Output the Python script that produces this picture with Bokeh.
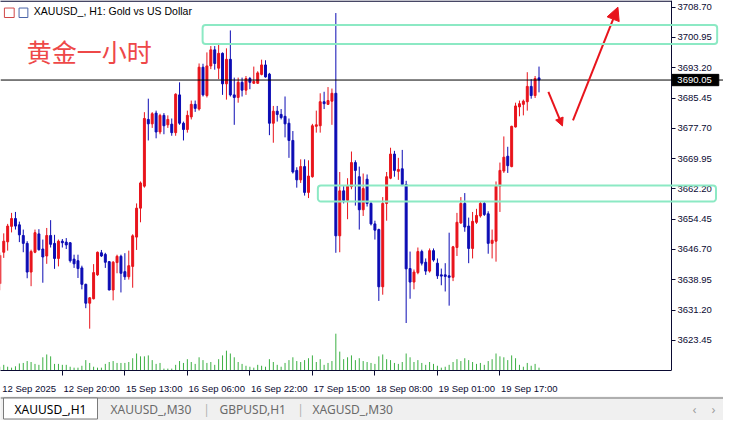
from bokeh.plotting import figure
from bokeh.models import (Range1d, LinearAxis, FixedTicker, PrintfTickFormatter, Span, Label,
                          BoxAnnotation, Arrow, NormalHead, ColumnDataSource)
from bokeh.layouts import column
from bokeh.core.properties import value
from bokeh.embed import file_html
from bokeh.resources import INLINE

# ---------------- data ----------------
symbol_title = "XAUUSD_, H1:  Gold vs US Dollar"
note_text = "黄金一小时"

time_ticks = [0, 16, 32, 48, 64, 80, 96, 112, 128]
time_labels = ["12 Sep 2025", "12 Sep 20:00", "15 Sep 13:00", "16 Sep 06:00", "16 Sep 22:00",
               "17 Sep 15:00", "18 Sep 08:00", "19 Sep 01:00", "19 Sep 17:00"]

price_ticks = [3623.45, 3631.20, 3638.95, 3646.70, 3654.45, 3662.20,
               3669.95, 3677.70, 3685.45, 3693.20, 3700.95, 3708.70]

opens = [3637.95, 3645.99, 3648.65, 3652.61, 3654.61, 3653.00, 3650.27, 3648.26, 3640.92, 3645.99,
         3650.68, 3646.81, 3645.03, 3650.27, 3648.26, 3644.40, 3648.82, 3648.58, 3648.41, 3644.23,
         3643.82, 3641.98, 3637.78, 3632.95, 3634.09, 3640.20, 3645.85, 3645.44, 3643.58, 3636.33,
         3643.34, 3644.95, 3641.02, 3639.71, 3642.37, 3649.86, 3657.27, 3662.90, 3679.97, 3678.84,
         3681.59, 3676.76, 3681.01, 3678.59, 3678.76, 3676.59, 3686.25, 3679.00, 3677.39, 3680.62,
         3683.83, 3682.63, 3693.33, 3686.08, 3693.66, 3697.77, 3693.08, 3696.88, 3689.08, 3695.35,
         3686.25, 3685.60, 3689.46, 3687.46, 3690.43, 3689.22, 3689.22, 3691.49, 3693.91, 3691.56,
         3679.00, 3682.07, 3681.25, 3680.77, 3679.00, 3674.59, 3666.93, 3664.51, 3667.90, 3661.30,
         3665.31, 3678.21, 3678.35, 3684.49, 3683.83, 3684.63, 3686.66, 3650.19, 3661.69, 3659.27,
         3662.75, 3668.93, 3665.31, 3656.86, 3664.68, 3658.48, 3653.24, 3651.79, 3637.15, 3658.48,
         3664.93, 3671.11, 3666.69, 3667.34, 3663.31, 3641.81, 3638.36, 3640.78, 3646.16, 3643.43,
         3641.16, 3646.40, 3643.19, 3640.20, 3640.20, 3639.95, 3639.57, 3647.20, 3653.48, 3658.48,
         3652.68, 3646.96, 3653.65, 3655.27, 3658.48, 3655.82, 3648.26, 3648.82, 3662.90, 3666.76,
         3670.55, 3667.90, 3678.04, 3683.18, 3683.83, 3684.49, 3688.42, 3686.08, 3690.60]

highs = [3645.92, 3650.82, 3653.24, 3656.06, 3656.30, 3653.82, 3651.79, 3648.82, 3646.64, 3651.79,
         3651.89, 3649.23, 3652.20, 3654.20, 3650.44, 3649.23, 3649.37, 3649.61, 3648.60, 3645.36,
         3645.36, 3642.54, 3637.95, 3634.50, 3642.95, 3646.16, 3646.57, 3645.85, 3643.75, 3643.75,
         3645.36, 3645.36, 3645.75, 3646.40, 3650.58, 3658.48, 3664.10, 3681.83, 3685.28, 3681.83,
         3682.22, 3681.42, 3681.59, 3681.01, 3680.21, 3686.66, 3689.46, 3679.42, 3682.22, 3684.80,
         3684.80, 3694.29, 3694.22, 3697.12, 3698.74, 3698.74, 3699.53, 3697.12, 3698.16, 3702.74,
         3690.67, 3690.67, 3690.67, 3691.08, 3690.84, 3693.49, 3692.29, 3695.26, 3695.11, 3691.88,
         3683.42, 3683.42, 3682.63, 3685.84, 3680.21, 3677.00, 3667.73, 3669.76, 3669.76, 3669.51,
         3678.84, 3682.22, 3686.66, 3687.05, 3688.25, 3687.87, 3707.19, 3666.52, 3662.90, 3664.93,
         3671.76, 3669.51, 3667.90, 3666.13, 3665.89, 3658.89, 3654.06, 3652.03, 3660.10, 3666.52,
         3672.73, 3671.93, 3670.14, 3672.17, 3664.27, 3646.16, 3641.57, 3647.20, 3646.64, 3644.40,
         3646.96, 3646.96, 3644.40, 3641.81, 3643.19, 3650.99, 3647.61, 3656.06, 3660.10, 3661.13,
         3654.85, 3656.30, 3657.10, 3658.89, 3659.03, 3656.47, 3651.79, 3664.10, 3668.93, 3675.62,
         3672.97, 3678.35, 3684.25, 3684.80, 3685.04, 3692.05, 3690.28, 3691.08, 3693.49]

lows = [3636.26, 3644.54, 3646.40, 3651.06, 3651.79, 3648.58, 3645.99, 3639.33, 3637.30, 3645.75,
        3646.40, 3638.19, 3643.02, 3647.20, 3641.74, 3642.37, 3647.20, 3646.81, 3643.34, 3641.98,
        3639.40, 3636.50, 3631.67, 3626.43, 3633.92, 3639.95, 3644.78, 3641.98, 3636.26, 3633.68,
        3640.61, 3635.70, 3638.92, 3638.99, 3636.91, 3646.57, 3653.65, 3662.51, 3674.59, 3677.80,
        3675.14, 3676.18, 3676.18, 3677.80, 3675.79, 3675.79, 3678.59, 3674.59, 3676.59, 3679.97,
        3681.90, 3682.22, 3685.84, 3685.60, 3692.84, 3692.70, 3690.28, 3686.25, 3685.04, 3685.84,
        3678.59, 3684.25, 3685.84, 3686.25, 3687.70, 3689.08, 3689.08, 3691.25, 3690.67, 3675.94,
        3674.01, 3679.42, 3679.97, 3675.38, 3670.14, 3666.13, 3662.51, 3663.72, 3660.48, 3659.85,
        3665.07, 3676.59, 3676.59, 3682.63, 3683.67, 3678.59, 3645.85, 3645.99, 3658.48, 3654.44,
        3662.10, 3657.92, 3651.79, 3655.27, 3657.68, 3652.85, 3649.23, 3633.53, 3635.12, 3654.06,
        3664.68, 3665.31, 3664.51, 3662.90, 3627.88, 3634.09, 3636.50, 3640.36, 3642.61, 3640.20,
        3640.78, 3643.58, 3639.16, 3637.54, 3635.95, 3632.32, 3638.60, 3645.03, 3653.24, 3651.23,
        3643.19, 3644.40, 3653.24, 3654.85, 3655.27, 3645.61, 3644.40, 3643.58, 3656.30, 3666.28,
        3666.28, 3667.73, 3677.90, 3680.77, 3681.01, 3682.22, 3685.28, 3685.45, 3686.90]

closes = [3645.19, 3648.82, 3652.68, 3654.61, 3652.68, 3650.44, 3648.26, 3640.92, 3646.16, 3650.99,
          3646.64, 3644.78, 3650.27, 3648.02, 3644.40, 3648.82, 3648.41, 3647.85, 3643.82, 3643.02,
          3641.81, 3637.78, 3632.95, 3634.33, 3640.78, 3645.99, 3645.03, 3643.43, 3636.33, 3643.43,
          3644.95, 3640.61, 3639.71, 3642.54, 3650.19, 3657.27, 3663.72, 3680.21, 3678.84, 3681.42,
          3676.76, 3681.01, 3678.35, 3679.97, 3676.59, 3686.42, 3679.00, 3677.39, 3681.01, 3683.83,
          3682.80, 3693.33, 3686.25, 3693.66, 3697.77, 3694.29, 3696.88, 3689.08, 3695.35, 3686.25,
          3685.60, 3689.46, 3687.46, 3690.43, 3689.46, 3689.70, 3691.88, 3693.91, 3690.84, 3679.00,
          3682.07, 3681.25, 3680.45, 3678.84, 3674.59, 3666.52, 3664.51, 3667.90, 3661.30, 3665.48,
          3678.35, 3678.59, 3684.49, 3684.00, 3684.80, 3686.66, 3650.19, 3661.69, 3659.27, 3662.90,
          3668.93, 3666.93, 3656.86, 3662.27, 3658.48, 3653.24, 3651.64, 3637.15, 3658.48, 3665.31,
          3671.11, 3666.93, 3667.17, 3663.31, 3641.74, 3638.36, 3640.92, 3646.16, 3643.19, 3641.16,
          3646.40, 3643.99, 3639.95, 3639.88, 3639.81, 3639.57, 3647.37, 3653.65, 3658.48, 3652.44,
          3646.96, 3653.89, 3655.41, 3658.48, 3655.65, 3648.26, 3649.06, 3662.90, 3666.93, 3670.31,
          3668.14, 3678.21, 3683.42, 3684.00, 3684.63, 3688.42, 3686.08, 3690.43, 3690.05]

tick_volumes = [1000, 1500, 1000, 750, 1120, 1870, 2000, 2500, 2250, 1750,
                1500, 3500, 4250, 3750, 1750, 1750, 1500, 1500, 1000, 750,
                750, 1250, 2750, 2000, 1000, 750, 750, 1750, 2250, 2500,
                2000, 2000, 2000, 2250, 3250, 4500, 3750, 3750, 4000, 2750,
                1750, 2000, 500, 500, 500, 1500, 2500, 2000, 3000, 2250,
                1750, 3500, 2750, 2000, 2250, 1500, 3000, 4000, 5250, 4500,
                3500, 2250, 1750, 1250, 1000, 750, 1500, 1250, 1000, 3000,
                2250, 1500, 1000, 2000, 2750, 3500, 2500, 2250, 2750, 3250,
                4000, 2250, 3000, 1500, 2000, 2500, 9750, 5000, 3000, 3500,
                4000, 2750, 3250, 2500, 2250, 2000, 1750, 3750, 4250, 3000,
                2750, 2000, 1750, 2250, 4500, 3500, 2250, 2750, 2000, 1500,
                2250, 1750, 1250, 750, 1000, 1500, 2250, 3000, 2500, 3250,
                2750, 2250, 1750, 2000, 1500, 2500, 3000, 4500, 3750, 3500,
                2750, 4000, 3250, 1500, 1000, 2000, 1250, 1750, 750]

# drawn objects (bar index / price)
zone_start = [51.9, 81.4]
zone_end = [183.6, 183.3]
zone_top = [3704.12, 3663.07]
zone_bottom = [3699.29, 3658.96]
arrow_from = [(146.7, 3679.7), (140.4, 3687.0)]
arrow_to = [(158.2, 3708.7), (144.0, 3678.3)]
arrow_head = [13, 8]

tab_names = ["XAUUSD_,H1", "XAUUSD_,M30", "GBPUSD,H1", "XAGUSD_,M30"]

# ---------------- styling ----------------
RED = "#e8141c"
BLUE = "#0c0cb4"
GREEN = "#3cb043"
MINT = "#8ce9c4"
AXIS = "#0a0a32"
NOTE_RED = "#ee4848"
FONT = "Liberation Sans"

W, H = 723, 396
FH = 378
PX_PER_BAR = 3.907
X0 = 0.17
X_AXIS = X0 + 671 / PX_PER_BAR        # where the price scale sits
X1 = X0 + W / PX_PER_BAR
Y0, Y1 = 3615.73, 3710.4

n = len(opens)
idx = list(range(n))
colors = [RED if c >= o else BLUE for o, c in zip(opens, closes)]
src = ColumnDataSource(dict(
    x=idx, o=opens, c=closes,
    h=[max(a, o, c) for a, o, c in zip(highs, opens, closes)],
    l=[min(a, o, c) for a, o, c in zip(lows, opens, closes)],
    top=[max(o, c) for o, c in zip(opens, closes)],
    bottom=[min(o, c) for o, c in zip(opens, closes)],
    color=colors, vol=tick_volumes, zero=[0] * n))

p = figure(width=W, height=H, x_range=Range1d(X0, X1), y_range=Range1d(Y0, Y1),
           output_backend="svg", toolbar_location=None,
           x_axis_location=None, y_axis_location=None,
           min_border_left=0, min_border_top=0, min_border_right=0,
           min_border_bottom=H - FH, outline_line_color=None,
           background_fill_color="white", border_fill_color="white")
p.xgrid.visible = False
p.ygrid.visible = False
p.extra_y_ranges = {"vol": Range1d(0, 98000)}

# volumes
p.segment(x0="x", y0="zero", x1="x", y1="vol", y_range_name="vol",
          line_color=GREEN, line_width=1, source=src)
# candles
p.segment(x0="x", y0="l", x1="x", y1="h", line_color="color", line_width=1, source=src)
p.vbar(x="x", width=0.5, top="top", bottom="bottom", fill_color="color",
       line_color="color", line_width=1, source=src)

# time axis
xa_ticks = LinearAxis(ticker=FixedTicker(ticks=time_ticks[1:]), bounds=(X0, X_AXIS),
                      major_label_overrides={t: "" for t in time_ticks[1:]},
                      major_label_text_font_size="0px", major_label_standoff=0,
                      major_tick_out=5, major_tick_in=0, minor_tick_line_color=None,
                      axis_line_color=AXIS, major_tick_line_color=AXIS)
p.add_layout(xa_ticks, "below")
label_pos = [t + 7.5 for t in time_ticks]
xa_labels = LinearAxis(ticker=FixedTicker(ticks=label_pos),
                       major_label_overrides={pos: lab for pos, lab in zip(label_pos, time_labels)},
                       axis_line_color=None, major_tick_line_color=None, minor_tick_line_color=None,
                       major_label_standoff=1, major_label_text_font=FONT,
                       major_label_text_font_size="9.5px", major_label_text_color=AXIS)
p.add_layout(xa_labels, "below")

# price axis, fixed at the right edge of the chart area
ya = LinearAxis(ticker=FixedTicker(ticks=price_ticks), formatter=PrintfTickFormatter(format="%.2f"),
                fixed_location=X_AXIS,
                major_tick_out=4, major_tick_in=0, minor_tick_line_color=None,
                axis_line_color=AXIS, major_tick_line_color=AXIS, major_label_standoff=2,
                major_label_text_font=FONT, major_label_text_font_size="9.5px",
                major_label_text_color=AXIS)
p.add_layout(ya, "right")

# top border and current price line
p.add_layout(BoxAnnotation(left=X0 - 1, right=X_AXIS, top=Y1, bottom=Y1 - 0.3,
                           fill_color=AXIS, fill_alpha=1.0, line_color=None))
p.add_layout(Span(location=closes[-1], dimension="width", line_color="black", line_width=1))

# zones
for s, e, tp, b in zip(zone_start, zone_end, zone_top, zone_bottom):
    p.add_layout(BoxAnnotation(left=s, right=e, top=tp, bottom=b, fill_color=None,
                               fill_alpha=0, line_color=MINT, line_alpha=1.0, line_width=2,
                               border_radius=3, level="overlay"))

# arrows
for (xs, ys), (xe, ye), hs in zip(arrow_from, arrow_to, arrow_head):
    p.add_layout(Arrow(end=NormalHead(size=hs, fill_color=RED, line_color=RED, line_width=1),
                       x_start=xs, y_start=ys, x_end=xe, y_end=ye,
                       line_color=RED, line_width=2))

# header icons
p.add_layout(BoxAnnotation(left=1.17, right=3.67, top=3708.47, bottom=3706.05,
                           fill_color=None, fill_alpha=0, line_color="#d04848",
                           line_alpha=1.0, line_width=1))
p.add_layout(BoxAnnotation(left=4.92, right=7.17, top=3708.47, bottom=3706.05,
                           fill_color=None, fill_alpha=0, line_color="#4a64a8",
                           line_alpha=1.0, line_width=1))

# price tag on the axis (black box, white text)
p.add_layout(BoxAnnotation(left=X_AXIS + 0.15, right=X_AXIS + 12.1, top=closes[-1] + 1.45,
                           bottom=closes[-1] - 1.45, fill_color="black", fill_alpha=1.0,
                           line_color="black", line_alpha=1.0, level="overlay"))
p.add_layout(Label(x=X_AXIS + 1.5, y=closes[-1], text=f"{closes[-1]:.2f}",
                   text_font=FONT, text_font_size="9.5px", text_baseline="middle",
                   text_color="white", level="overlay"))

# texts
p.add_layout(Label(x=8.7, y=3709.2, text=symbol_title, text_font=FONT, text_font_size="10.5px",
                   text_baseline="top", text_color="black"))
p.add_layout(Label(x=6.9, y=3702.0, text=note_text, text_font="Noto Sans CJK SC",
                   text_font_size="25px", text_baseline="top", text_color=NOTE_RED))

# ---------------- tab bar ----------------
TH = 24
t = figure(width=W, height=TH, x_range=Range1d(0, W), y_range=Range1d(0, TH),
           output_backend="svg", toolbar_location=None, x_axis_location=None,
           y_axis_location=None, min_border=0, outline_line_color=None,
           background_fill_color="#f0f0f0", border_fill_color="#f0f0f0")
t.xgrid.visible = False
t.ygrid.visible = False
t.segment(x0=[0], y0=[TH - 1.5], x1=[W], y1=[TH - 1.5], line_color="#6e6e6e", line_width=1)
t.quad(left=[3], right=[97], top=[TH - 1.5], bottom=[1.5], fill_color="white",
       line_color="#7a7a7a", line_width=1)
tab_x = [50, 110, 219, 312]
tab_align = ["center", "left", "left", "left"]
tab_col = ["#000000", "#6a6a6a", "#6a6a6a", "#6a6a6a"]
t.text(x=tab_x, y=[11.5] * 4, text=tab_names, text_align=tab_align, text_color=tab_col,
       text_baseline="middle", text_font=value("Noto Sans"), text_font_size="12px")
t.text(x=[206, 300], y=[11.5, 11.5], text=["|", "|"], text_align="center",
       text_baseline="middle", text_color="#b0b0b0", text_font=value("Noto Sans"),
       text_font_size="12px")
t.text(x=[694, 713], y=[11.5, 11.5], text=["‹", "›"], text_align="center",
       text_baseline="middle", text_color="#a0a0a0", text_font=value("Noto Sans"),
       text_font_size="13px")

layout = column(p, t, spacing=0)
open("out.html", "w").write(file_html(layout, INLINE))
